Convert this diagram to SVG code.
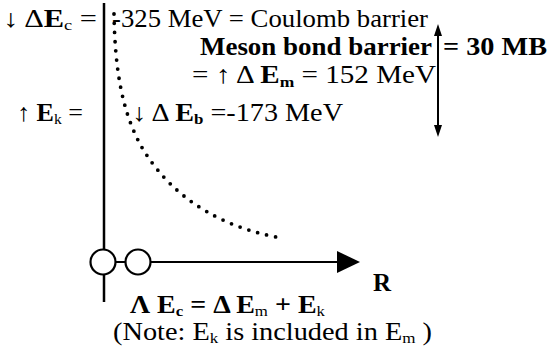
<svg xmlns="http://www.w3.org/2000/svg" width="558" height="352" viewBox="0 0 558 352">
<style>
text{font-family:"Liberation Serif","Times New Roman",serif}
.t{font-size:25px;fill:#000}
.b{font-weight:bold}
.s{font-size:15px}
.ln{stroke:#000;fill:none}
</style>
<rect width="558" height="352" fill="#fff"/>
<g id="connectors">
<line class="ln" x1="104" y1="3" x2="104" y2="302" stroke-width="2.5"/>
<line class="ln" x1="115" y1="262" x2="126" y2="262" stroke-width="2"/>
<line class="ln" x1="150" y1="262" x2="340" y2="262" stroke-width="2"/>
<polygon points="337,251 360,262 337,273" fill="#000"/>
<line class="ln" x1="438" y1="32" x2="438" y2="130" stroke-width="2"/>
<polygon points="438,24 434,36 442,36" fill="#000"/>
<polygon points="438,137 434,125 442,125" fill="#000"/>
<path class="ln" d="M114,14 C115,70 122,110 140,144 C160,180 200,222 276,237" stroke-width="3.8" stroke-linecap="round" stroke-dasharray="0 9.2"/>
</g>
<g id="node-1"><circle cx="103" cy="262" r="12.5" fill="#fff" stroke="#000" stroke-width="2.2"/></g>
<g id="node-2"><circle cx="138" cy="262" r="12.5" fill="#fff" stroke="#000" stroke-width="2.2"/></g>
<g id="label-dEc"><text class="t" x="3" y="27" textLength="94" lengthAdjust="spacingAndGlyphs">↓ Δ<tspan class="b">E</tspan><tspan class="s" dy="3">c</tspan><tspan dy="-3"> =</tspan></text></g>
<g id="label-coulomb"><text class="t" x="112" y="27" textLength="316" lengthAdjust="spacingAndGlyphs">-325 MeV = Coulomb barrier</text></g>
<g id="label-meson"><text class="t b" x="200" y="55" textLength="232" lengthAdjust="spacingAndGlyphs">Meson bond barrier</text></g>
<g id="label-30mb"><text class="t b" x="443" y="55" textLength="104" lengthAdjust="spacingAndGlyphs">= 30 MB</text></g>
<g id="label-dEm"><text class="t" x="192" y="83" textLength="244" lengthAdjust="spacingAndGlyphs">= ↑ Δ <tspan class="b">E</tspan><tspan class="s b" dy="4">m</tspan><tspan dy="-4"> =  152 MeV</tspan></text></g>
<g id="label-Ek"><text class="t" x="17" y="121" textLength="66" lengthAdjust="spacingAndGlyphs">↑ <tspan class="b">E</tspan><tspan class="s" dy="3">k</tspan><tspan dy="-3"> =</tspan></text></g>
<g id="label-dEb"><text class="t" x="132" y="121" textLength="211" lengthAdjust="spacingAndGlyphs">↓ Δ <tspan class="b">E</tspan><tspan class="s b" dy="3">b</tspan><tspan dy="-3"> =-173 MeV</tspan></text></g>
<g id="label-R"><text class="t b" x="373" y="291">R</text></g>
<g id="label-eq"><text class="t b" x="130" y="313" textLength="195" lengthAdjust="spacingAndGlyphs">Λ E<tspan class="s" dy="3">c</tspan><tspan dy="-3"> =  Δ E</tspan><tspan class="s" style="font-weight:normal" dy="3">m</tspan><tspan dy="-3"> + E</tspan><tspan class="s" style="font-weight:normal" dy="3">k</tspan></text></g>
<g id="label-note"><text class="t" x="113" y="340" textLength="319" lengthAdjust="spacingAndGlyphs">(Note: E<tspan class="s" dy="3">k</tspan><tspan dy="-3"> is included in E</tspan><tspan class="s" dy="3">m</tspan><tspan dy="-3"> )</tspan></text></g>
</svg>
